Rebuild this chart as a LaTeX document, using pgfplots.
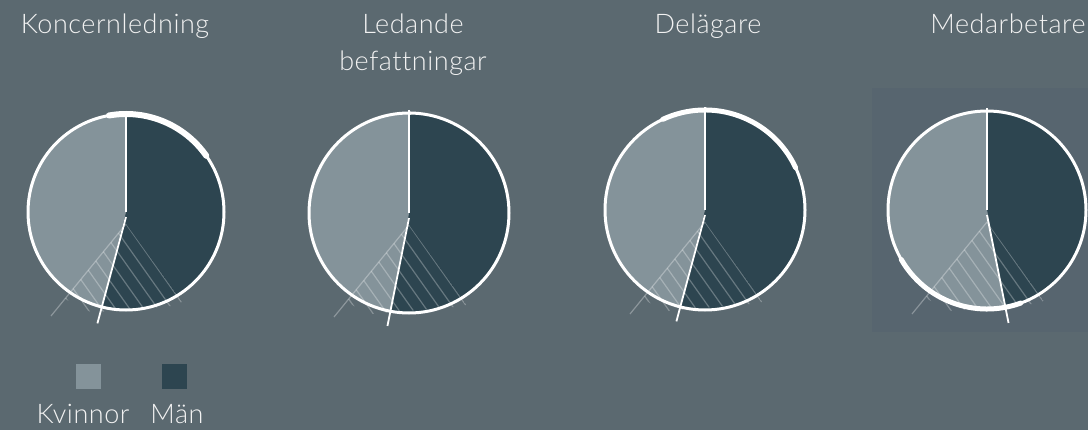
\documentclass[border=0pt]{standalone}
\usepackage{fontspec}
\setmainfont{Lato}[UprightFont={* Light},LetterSpace=2,Ligatures=NoCommon]
\usepackage{pgfplots}
\usepackage{pgfplotstable}
\pgfplotsset{compat=1.18}
\definecolor{bg}{HTML}{5B6970}
\definecolor{women}{HTML}{84939A}
\definecolor{men}{HTML}{2D4550}
\definecolor{panel}{HTML}{57656F}
\definecolor{txt}{HTML}{F2F2F2}

\pgfplotstableread{
group K M
Koncernledning 46 54
Ledande 47 53
Delagare 46 54
Medarbetare 53 47
}\piedata

% #1 row, #2 x, #3 y, #4 r, #5 thick arc start, #6 thick arc end, #7 thick width
\newcommand\pie[7]{%
 \pgfplotstablegetelem{#1}{M}\of\piedata
 \pgfmathsetmacro\aM{90-3.6*\pgfplotsretval}%
 \pgfmathsetmacro\aK{\aM+360}%
 \begin{axis}[at={(#2,#3)},anchor=center,x=50pt,y=50pt,
   xmin=-1.3,xmax=1.3,ymin=-1.3,ymax=1.3,hide axis,scale only axis,clip=false]
 \fill[men] (axis cs:0,0) -- (axis cs:0,#4) arc[start angle=90,end angle=\aM,radius=#4*50pt] -- cycle;
 \fill[women] (axis cs:0,0) -- (axis cs:0,#4) arc[start angle=90,end angle=\aK,radius=#4*50pt] -- cycle;
 \pgfplotsextra{%
  \begin{scope}
   \clip (axis cs:0,-0.12) -- (axis cs:-0.75,-1.04) -- (axis cs:0.58,-0.93) -- cycle;
   \clip (axis cs:0,0) circle[radius=#4*54pt];
   \foreach \k in {-8,...,0}{
     \draw[white,opacity=0.28,line width=0.6pt]
       (axis cs:{\k*0.115*0.816-2*0.578},{-0.12+\k*0.115*0.578+2*0.816}) --
       (axis cs:{\k*0.115*0.816+2*0.578},{-0.12+\k*0.115*0.578-2*0.816});
   }
  \end{scope}
  \draw[white,opacity=0.3,line width=0.6pt] (axis cs:0,-0.12) -- (axis cs:-0.75,-1.04);
 }
 \draw[white,line width=1.5pt] (axis cs:0,0) circle[radius=#4*50pt];
 \draw[white,line width=#7,line cap=round] (axis cs:{#4*cos(#5)},{#4*sin(#5)}) arc[start angle=#5,end angle=#6,radius=#4*50pt];
 \draw[white,line width=0.9pt] (axis cs:0,{#4*1.03}) -- (axis cs:0,0);
 \draw[white,line width=0.9pt] (axis cs:0,-0.05) -- (axis cs:{1.15*cos(\aM)},{1.15*sin(\aM)});
 \end{axis}%
}

\begin{document}
\begin{tikzpicture}
\fill[bg] (0,0) rectangle (544pt,215pt);
\fill[panel] (436pt,49pt) rectangle (544pt,171pt);

\pie{0}{63pt}{109pt}{0.98}{100}{35}{3pt}
\pie{1}{204.5pt}{108.5pt}{1.0}{90}{89}{1.5pt}
\pie{2}{352.5pt}{110pt}{1.0}{115}{25}{2.5pt}
\pie{3}{493.5pt}{110pt}{0.99}{-150}{-70}{2.5pt}

\begin{scope}[every node/.style={text=txt,anchor=base,font=\fontsize{13.5}{16}\selectfont,inner sep=0pt}]
\node at (57.5pt,198.5pt) {Koncernledning};
\node at (206.5pt,198.5pt) {Ledande};
\node at (206.5pt,180pt) {befattningar};
\node at (354pt,198.5pt) {Delägare};
\node at (504pt,198.5pt) {Medarbetare};
\node at (41.5pt,3.5pt) {Kvinnor};
\node at (88.5pt,3.5pt) {Män};
\end{scope}
\fill[women] (38pt,20.5pt) rectangle (50.5pt,33pt);
\fill[men] (81pt,20.5pt) rectangle (93.5pt,33pt);

\pgfresetboundingbox
\useasboundingbox (0,0) rectangle (544pt,215pt);
\end{tikzpicture}
\end{document}
